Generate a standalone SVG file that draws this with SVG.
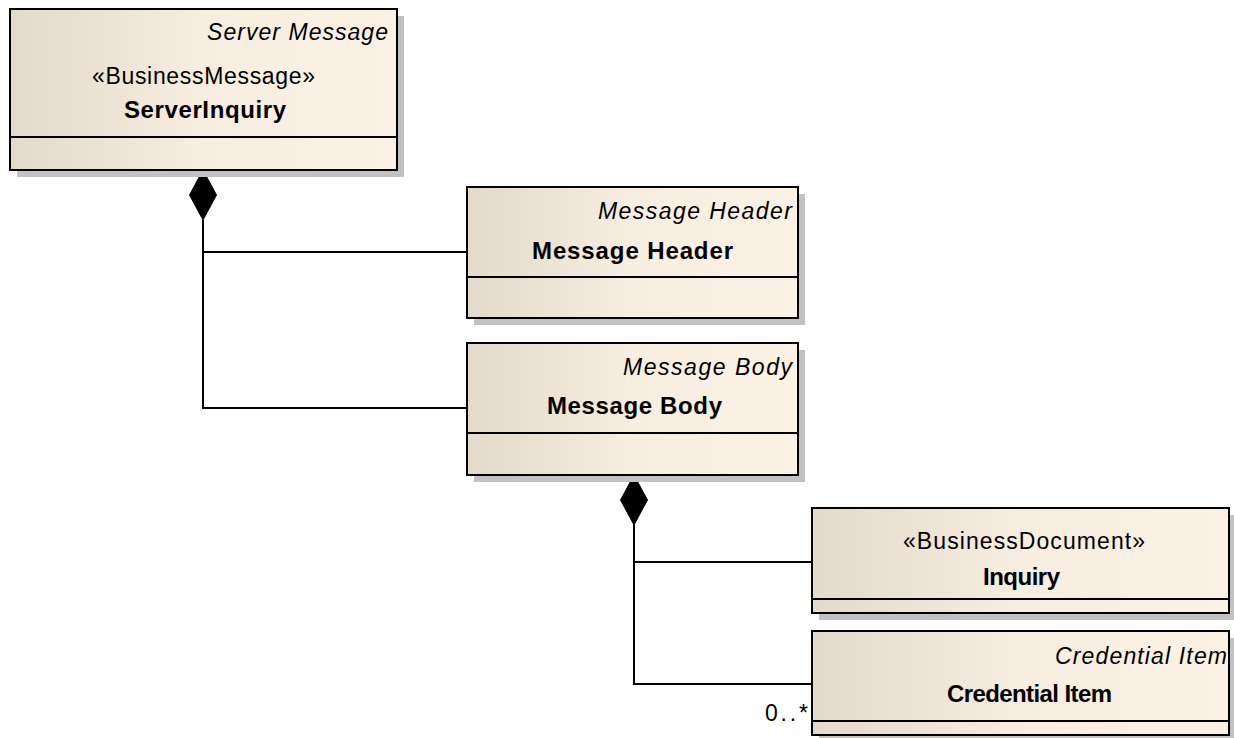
<svg xmlns="http://www.w3.org/2000/svg" width="1234" height="738" viewBox="0 0 1234 738">
<defs>
<linearGradient id="fill" x1="0" y1="0" x2="1" y2="0">
<stop offset="0" stop-color="#e4dacb"/>
<stop offset="0.5" stop-color="#f7ede0"/>
<stop offset="1" stop-color="#fbf1e4"/>
</linearGradient>
<style>
.shadow{fill:#c2c2c2}
.box{fill:url(#fill);stroke:#000;stroke-width:2}
.div{stroke:#000;stroke-width:2}
.t{font-family:"Liberation Sans",Arial,sans-serif;font-size:23px;fill:#000}
.it{font-style:italic;text-anchor:end}
.st{text-anchor:middle}
.b{font-weight:bold;font-size:24px;text-anchor:middle}
.line{fill:none;stroke:#000;stroke-width:2}
.dia{fill:#000;stroke:#000;stroke-width:1}
</style>
</defs>
<rect width="1234" height="738" fill="#fff"/>
<g id="connectors">
<path class="line" d="M203,220 V408 H467 M203,252 H467"/>
<polygon class="dia" points="203,170 216.5,195 203,220 189.5,195"/>
<path class="line" d="M634,525 V684 H812 M634,562 H812"/>
<polygon class="dia" points="634,475 647.5,500 634,525 620.5,500"/>
<text class="t" x="808" y="721" text-anchor="end" textLength="43" lengthAdjust="spacing">0..*</text>
</g>
<g id="ServerInquiry">
<rect class="shadow" x="17" y="16" width="387" height="161"/>
<rect class="box" x="10" y="9" width="387" height="161"/>
<line class="div" x1="10" y1="137" x2="397" y2="137"/>
<text class="t it" x="388" y="40" textLength="181" lengthAdjust="spacing">Server Message</text>
<text class="t st" x="203.5" y="84" textLength="223" lengthAdjust="spacing">«BusinessMessage»</text>
<text class="t b" x="205" y="118" textLength="162" lengthAdjust="spacing">ServerInquiry</text>
</g>
<g id="MessageHeader">
<rect class="shadow" x="474" y="194" width="331" height="131"/>
<rect class="box" x="467" y="187" width="331" height="131"/>
<line class="div" x1="467" y1="277" x2="798" y2="277"/>
<text class="t it" x="792" y="219" textLength="194" lengthAdjust="spacing">Message Header</text>
<text class="t b" x="632.5" y="259" textLength="201" lengthAdjust="spacing">Message Header</text>
</g>
<g id="MessageBody">
<rect class="shadow" x="474" y="350" width="331" height="132"/>
<rect class="box" x="467" y="343" width="331" height="132"/>
<line class="div" x1="467" y1="433" x2="798" y2="433"/>
<text class="t it" x="792" y="375" textLength="169" lengthAdjust="spacing">Message Body</text>
<text class="t b" x="634.5" y="414" textLength="175" lengthAdjust="spacing">Message Body</text>
</g>
<g id="Inquiry">
<rect class="shadow" x="819" y="515" width="417" height="105"/>
<rect class="box" x="812" y="508" width="417" height="105"/>
<line class="div" x1="812" y1="599" x2="1229" y2="599"/>
<text class="t st" x="1024" y="549" textLength="242" lengthAdjust="spacing">«BusinessDocument»</text>
<text class="t b" x="1021.5" y="585" textLength="77" lengthAdjust="spacing">Inquiry</text>
</g>
<g id="CredentialItem">
<rect class="shadow" x="819" y="638" width="417" height="104"/>
<rect class="box" x="812" y="631" width="417" height="104"/>
<line class="div" x1="812" y1="721" x2="1229" y2="721"/>
<text class="t it" x="1227" y="664" textLength="172" lengthAdjust="spacing">Credential Item</text>
<text class="t b" x="1029.5" y="702" textLength="165" lengthAdjust="spacing">Credential Item</text>
</g>
</svg>
